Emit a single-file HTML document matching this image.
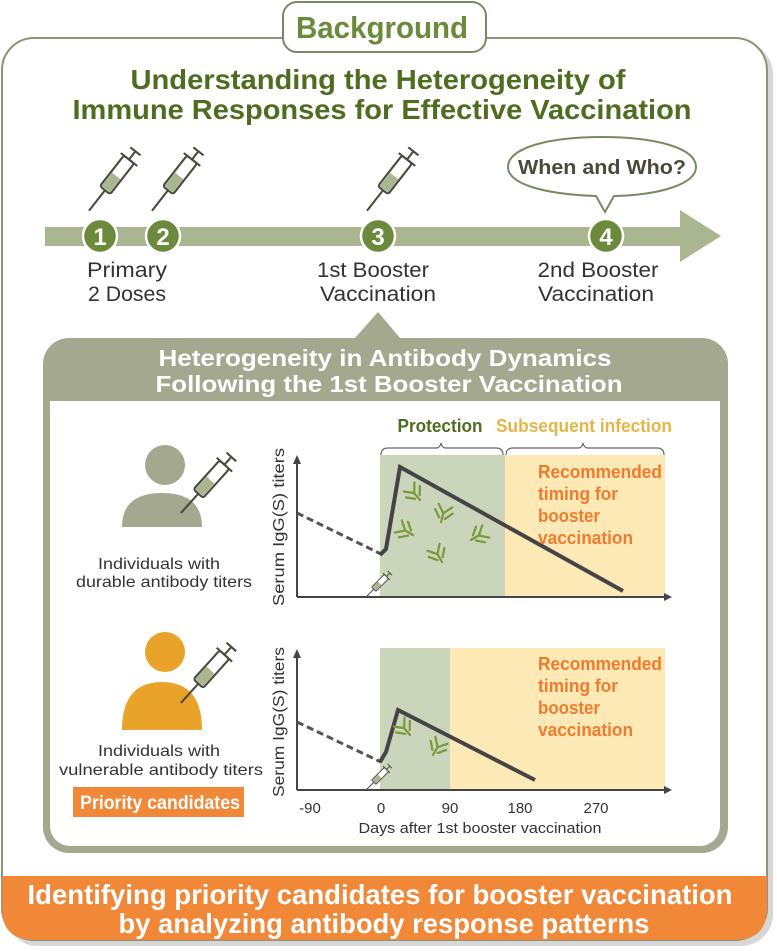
<!DOCTYPE html>
<html><head><meta charset="utf-8"><style>
html,body{margin:0;padding:0;background:#fff}
svg{display:block}
text{font-family:"Liberation Sans",sans-serif}
</style></head><body>
<svg width="777" height="951" viewBox="0 0 777 951" xmlns="http://www.w3.org/2000/svg">
<defs>
<g id="ab" stroke="#7a9a3a" stroke-width="2.2" fill="none" stroke-linecap="round">
<path d="M0 0 L0 -9 M0 -9 L-7 -17 M0 -9 L7 -17 M-3 -4 L-9 -11 M3 -4 L9 -11"/>
</g>
<g id="syr">
<rect x="-5" y="-20" width="10" height="30" rx="2" fill="#fff" stroke="#4a4a40" stroke-width="1.6"/>
<rect x="-4" y="-4" width="8" height="13" fill="#a9b68f"/>
<path d="M0 10 L0 30 M-8 -20 L8 -20 M0 -20 L0 -28 M-5 -28 L5 -28" stroke="#4a4a40" stroke-width="1.6" fill="none"/>
</g>
</defs>

<!-- outer frame -->
<rect x="6" y="42" width="767" height="904" rx="32" fill="#bdbdbd" opacity="0.6"/>
<rect x="2" y="38" width="765" height="902" rx="32" fill="#fff" stroke="#8a9478" stroke-width="2"/>
<path d="M2 876 L767 876 L767 908 Q767 940 735 940 L34 940 Q2 940 2 908 Z" fill="#f08838"/>
<text x="380" y="904" font-size="28" font-weight="bold" fill="#fff" text-anchor="middle" textLength="705" lengthAdjust="spacingAndGlyphs">Identifying priority candidates for booster vaccination</text>
<text x="384" y="933" font-size="28" font-weight="bold" fill="#fff" text-anchor="middle" textLength="531" lengthAdjust="spacingAndGlyphs">by analyzing antibody response patterns</text>

<!-- Background tab -->
<rect x="283" y="2" width="203" height="50" rx="14" fill="#fff" stroke="#7a8a60" stroke-width="2"/>
<text x="382" y="38" font-size="31" font-weight="bold" fill="#6b8a3c" text-anchor="middle" textLength="172" lengthAdjust="spacingAndGlyphs">Background</text>
<text x="378" y="89" font-size="28" font-weight="bold" fill="#4f6d1f" text-anchor="middle" textLength="495" lengthAdjust="spacingAndGlyphs">Understanding the Heterogeneity of</text>
<text x="382" y="119" font-size="28" font-weight="bold" fill="#4f6d1f" text-anchor="middle" textLength="619" lengthAdjust="spacingAndGlyphs">Immune Responses for Effective Vaccination</text>

<!-- timeline -->
<rect x="45" y="227" width="640" height="19" fill="#a9b68f"/>
<path d="M680 210 L721 236 L680 262 Z" fill="#a9b68f"/>
<g fill="#6b8a3c" stroke="#fff" stroke-width="2.5">
<circle cx="100" cy="236" r="17"/><circle cx="163" cy="236" r="17"/><circle cx="378" cy="236" r="17"/><circle cx="606" cy="236" r="17"/>
</g>
<g font-size="24" font-weight="bold" fill="#fff" text-anchor="middle">
<text x="100" y="245">1</text><text x="163" y="245">2</text><text x="378" y="245">3</text><text x="606" y="245">4</text>
</g>
<g font-size="21" fill="#333" text-anchor="middle" lengthAdjust="spacingAndGlyphs">
<text x="127" y="277" textLength="80" lengthAdjust="spacingAndGlyphs">Primary</text><text x="127" y="301" textLength="78" lengthAdjust="spacingAndGlyphs">2 Doses</text>
<text x="373" y="277" textLength="112" lengthAdjust="spacingAndGlyphs">1st Booster</text><text x="378" y="301" textLength="116" lengthAdjust="spacingAndGlyphs">Vaccination</text>
<text x="598" y="277" textLength="121" lengthAdjust="spacingAndGlyphs">2nd Booster</text><text x="596" y="301" textLength="116" lengthAdjust="spacingAndGlyphs">Vaccination</text>
</g>
<use href="#syr" transform="translate(113,180) rotate(38) scale(1.3)"/>
<use href="#syr" transform="translate(176,180) rotate(38) scale(1.3)"/>
<use href="#syr" transform="translate(391,180) rotate(38) scale(1.3)"/>
<!-- bubble -->
<path d="M596 196 C540 194 508 183 508 167 C508 148 548 137 602 137 C656 137 696 148 696 167 C696 184 660 195 614 196 L605 212 L596 196 Z" fill="#fff" stroke="#7a8a60" stroke-width="2"/>
<text x="602" y="174" font-size="20" font-weight="bold" fill="#4a4a3a" text-anchor="middle" textLength="168" lengthAdjust="spacingAndGlyphs">When and Who?</text>

<!-- inner panel -->
<path d="M355 338 L378 312 L400 338 Z" fill="#a3a88f"/>
<rect x="43" y="338" width="685" height="515" rx="26" fill="#a3a88f"/>
<rect x="50" y="401" width="670" height="445" rx="20" fill="#fff"/>
<rect x="50" y="401" width="670" height="20" fill="#fff"/>
<text x="385" y="366" font-size="23" font-weight="bold" fill="#fff" text-anchor="middle" textLength="453" lengthAdjust="spacingAndGlyphs">Heterogeneity in Antibody Dynamics</text>
<text x="389" y="392" font-size="23" font-weight="bold" fill="#fff" text-anchor="middle" textLength="467" lengthAdjust="spacingAndGlyphs">Following the 1st Booster Vaccination</text>

<!-- persons -->
<circle cx="165" cy="465" r="20" fill="#a3a88f"/>
<path d="M122 527 Q122 493 162 493 Q202 493 202 527 Z" fill="#a3a88f"/>
<use href="#syr" transform="translate(207,484) rotate(42) scale(1.3)"/>
<text x="159" y="569" font-size="16" fill="#333" text-anchor="middle" textLength="122" lengthAdjust="spacingAndGlyphs">Individuals with</text>
<text x="164" y="587" font-size="16" fill="#333" text-anchor="middle" textLength="176" lengthAdjust="spacingAndGlyphs">durable antibody titers</text>
<circle cx="165" cy="652" r="20" fill="#e9a32a"/>
<path d="M122 730 Q122 682 162 682 Q202 682 202 730 Z" fill="#e9a32a"/>
<use href="#syr" transform="translate(207,674) rotate(42) scale(1.3)"/>
<text x="159" y="756" font-size="16" fill="#333" text-anchor="middle" textLength="122" lengthAdjust="spacingAndGlyphs">Individuals with</text>
<text x="161" y="775" font-size="16" fill="#333" text-anchor="middle" textLength="204" lengthAdjust="spacingAndGlyphs">vulnerable antibody titers</text>
<rect x="73" y="787" width="171" height="30" fill="#f08838"/>
<text x="160" y="809" font-size="19" font-weight="bold" fill="#fff" text-anchor="middle" textLength="160" lengthAdjust="spacingAndGlyphs">Priority candidates</text>

<!-- top chart -->
<rect x="380" y="455" width="125" height="142" fill="#cbd5bb"/>
<rect x="505" y="455" width="160" height="142" fill="#fde9b5"/>
<text x="440" y="432" font-size="18" font-weight="bold" fill="#4f6d1f" text-anchor="middle" textLength="85" lengthAdjust="spacingAndGlyphs">Protection</text>
<text x="584" y="432" font-size="18" font-weight="bold" fill="#e6b548" text-anchor="middle" textLength="176" lengthAdjust="spacingAndGlyphs">Subsequent infection</text>
<path d="M381 455 Q381 448 388 448 L436 448 Q440 448 441 443 Q442 448 446 448 L496 448 Q503 448 503 455" fill="none" stroke="#666" stroke-width="1.2"/>
<path d="M506 455 Q506 448 513 448 L578 448 Q582 448 583 443 Q584 448 588 448 L657 448 Q664 448 664 455" fill="none" stroke="#666" stroke-width="1.2"/>
<path d="M297 597 L297 462" stroke="#444" stroke-width="2"/><path d="M293 464 L297 455 L301 464Z" fill="#444"/>
<path d="M297 597 L665 597" stroke="#444" stroke-width="2"/><path d="M664 593 L672 597 L664 601Z" fill="#444"/>
<path d="M297 513 L381 554" stroke="#555" stroke-width="3" stroke-dasharray="7,4"/>
<path d="M380 555 L386 549 L400 467 L623 591" fill="none" stroke="#444" stroke-width="4"/>
<use href="#ab" transform="translate(420,500) rotate(-40)"/>
<use href="#ab" transform="translate(441,522) rotate(15)"/>
<use href="#ab" transform="translate(413,535) rotate(-60)"/>
<use href="#ab" transform="translate(471,540) rotate(60)"/>
<use href="#ab" transform="translate(442,562) rotate(-30)"/>
<use href="#syr" transform="translate(378,585) rotate(45) scale(0.6)"/>
<g font-size="18" font-weight="bold" fill="#f07a30">
<text x="538" y="478" textLength="124" lengthAdjust="spacingAndGlyphs">Recommended</text><text x="538" y="500" textLength="80" lengthAdjust="spacingAndGlyphs">timing for</text><text x="538" y="522" textLength="62" lengthAdjust="spacingAndGlyphs">booster</text><text x="538" y="544" textLength="95" lengthAdjust="spacingAndGlyphs">vaccination</text>
</g>
<text transform="translate(284,527) rotate(-90)" font-size="16" fill="#333" text-anchor="middle" textLength="158" lengthAdjust="spacingAndGlyphs">Serum IgG(S) titers</text>

<!-- bottom chart -->
<rect x="380" y="648" width="70" height="142" fill="#cbd5bb"/>
<rect x="450" y="648" width="215" height="142" fill="#fde9b5"/>
<path d="M297 790 L297 656" stroke="#444" stroke-width="2"/><path d="M293 658 L297 649 L301 658Z" fill="#444"/>
<path d="M297 790 L665 790" stroke="#444" stroke-width="2"/><path d="M664 786 L672 790 L664 794Z" fill="#444"/>
<path d="M297 722 L381 762" stroke="#555" stroke-width="3" stroke-dasharray="7,4"/>
<path d="M380 762 L386 752 L398 710 L535 780" fill="none" stroke="#444" stroke-width="4"/>
<use href="#ab" transform="translate(410,735) rotate(-40)"/>
<use href="#ab" transform="translate(433,755) rotate(30)"/>
<use href="#syr" transform="translate(378,778) rotate(45) scale(0.6)"/>
<g font-size="18" font-weight="bold" fill="#f07a30">
<text x="538" y="670" textLength="124" lengthAdjust="spacingAndGlyphs">Recommended</text><text x="538" y="692" textLength="80" lengthAdjust="spacingAndGlyphs">timing for</text><text x="538" y="714" textLength="62" lengthAdjust="spacingAndGlyphs">booster</text><text x="538" y="736" textLength="95" lengthAdjust="spacingAndGlyphs">vaccination</text>
</g>
<text transform="translate(284,722) rotate(-90)" font-size="16" fill="#333" text-anchor="middle" textLength="150" lengthAdjust="spacingAndGlyphs">Serum IgG(S) titers</text>
<g font-size="15" fill="#333" text-anchor="middle">
<text x="310" y="813">-90</text><text x="381" y="813">0</text><text x="450" y="813">90</text><text x="520" y="813">180</text><text x="596" y="813">270</text>
</g>
<text x="480" y="833" font-size="15" fill="#333" text-anchor="middle" textLength="243" lengthAdjust="spacingAndGlyphs">Days after 1st booster vaccination</text>
</svg>
</body></html>
